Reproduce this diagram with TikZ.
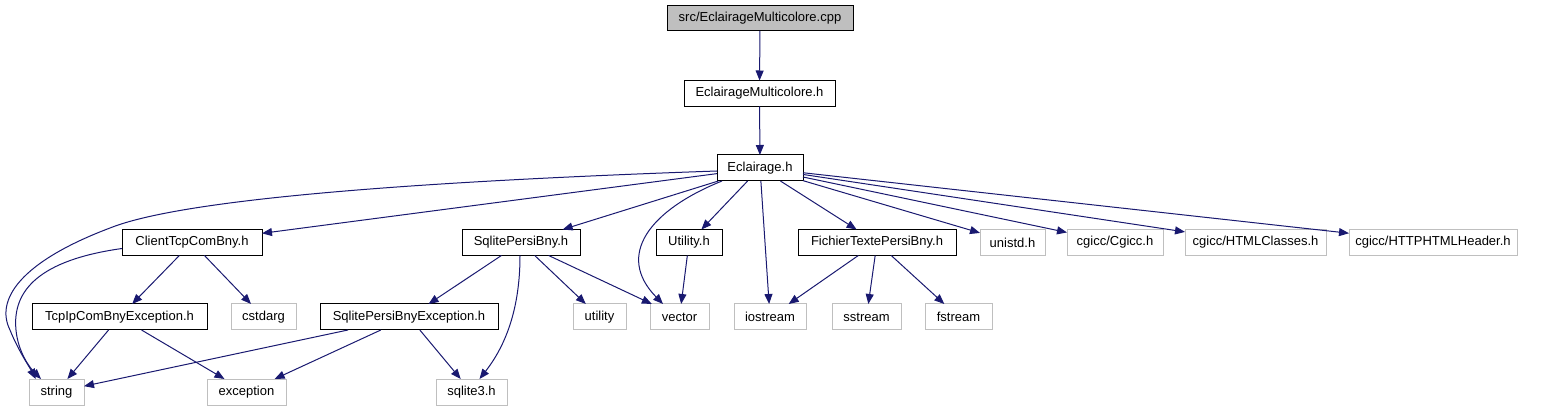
\documentclass[tikz,border=0pt]{standalone}
\usepackage{fontspec}
\setmainfont{Liberation Sans}
\usetikzlibrary{
    arrows.meta
}
\definecolor{edgeblue}{HTML}{191970}
\definecolor{extgray}{HTML}{BFBFBF}

\begin{document}
\begin{tikzpicture}[
    x=1pt,
    y=-1pt,
    >={Triangle[length=10pt,width=8pt]},
    font=\fontsize{13}{15}\selectfont,
    file/.style={
        rectangle,
        draw=black,
        line width=1pt,
        minimum height=26pt,
        inner sep=0pt,
        outer sep=0pt
    },
    source/.style={
        file,
        fill=extgray,
        minimum height=25pt
    },
    sysfile/.style={
        file,
        draw=extgray
    },
    dep/.style={
        ->,
        draw=edgeblue,
        line width=1pt
    }
]
\useasboundingbox (0,0) rectangle (1563,411);

%--------------------------------------------------
\node[source,minimum width=186pt] (root) at (760,18.5)
{src/EclairageMulticolore.cpp};

\node[file,minimum width=151pt] (multicolore_h) at (759.5,93.5)
{EclairageMulticolore.h};

\node[file,minimum width=86pt] (eclairage_h) at (760,168)
{Eclairage.h};

% third row
\node[file,minimum width=140pt] (client_h) at (192,242.5)
{ClientTcpComBny.h};
\node[file,minimum width=118pt] (persi_h) at (521,242.5)
{SqlitePersiBny.h};
\node[file,minimum width=66pt] (utility_h) at (689,242.5)
{Utility.h};
\node[file,minimum width=158pt] (fichier_h) at (877,242.5)
{FichierTextePersiBny.h};
\node[sysfile,minimum width=65pt] (unistd_h) at (1012.5,242.5)
{unistd.h};
\node[sysfile,minimum width=96pt] (cgicc_h) at (1115,242.5)
{cgicc/Cgicc.h};
\node[sysfile,minimum width=141pt] (htmlclasses_h) at (1255.5,242.5)
{cgicc/HTMLClasses.h};
\node[sysfile,minimum width=168pt] (httpheader_h) at (1433,242.5)
{cgicc/HTTPHTMLHeader.h};

% fourth row
\node[file,minimum width=175pt] (tcpip_exc) at (119.5,317)
{TcpIpComBnyException.h};
\node[sysfile,minimum width=65pt] (cstdarg) at (263.5,317)
{cstdarg};
\node[file,minimum width=178pt] (persi_exc) at (409,317)
{SqlitePersiBnyException.h};
\node[sysfile,minimum width=53pt] (utility) at (599.5,317)
{utility};
\node[sysfile,minimum width=59pt] (vector) at (679.5,317)
{vector};
\node[sysfile,minimum width=72pt] (iostream) at (770,317)
{iostream};
\node[sysfile,minimum width=69pt] (sstream) at (866.5,317)
{sstream};
\node[sysfile,minimum width=67pt] (fstream) at (958.5,317)
{fstream};

% bottom row
\node[sysfile,minimum width=55pt] (string) at (56.5,392)
{string};
\node[sysfile,minimum width=79pt] (exception) at (246.5,392)
{exception};
\node[sysfile,minimum width=71pt] (sqlite3) at (471.5,392)
{sqlite3.h};

%--------------------------------------------------
\draw[dep] (root) -- (multicolore_h);
\draw[dep] (multicolore_h) -- (eclairage_h);

\draw[dep] ([yshift=-3pt]eclairage_h.west) .. controls (400,182) and (180,200) .. (110,228)
    .. controls (20,262) and (-5,300) .. (10,330)
    .. controls (18,350) and (30,368) .. (string.148);
\draw[dep] (eclairage_h) -- (client_h);
\draw[dep] (eclairage_h) -- (persi_h);
\draw[dep] ([xshift=5pt]eclairage_h.south west) .. controls (650,210) and (615,255) .. ([xshift=13pt]vector.north west);
\draw[dep] (eclairage_h) -- (utility_h);
\draw[dep] (eclairage_h) -- (iostream);
\draw[dep] (eclairage_h) -- (fichier_h);
\draw[dep] (eclairage_h) -- (unistd_h);
\draw[dep] (eclairage_h) -- (cgicc_h);
\draw[dep] (eclairage_h) -- (htmlclasses_h);
\draw[dep] (eclairage_h) -- (httpheader_h);

\draw[dep] (client_h) -- (tcpip_exc);
\draw[dep] (client_h) -- (cstdarg);
\draw[dep] ([yshift=-6pt]client_h.west) .. controls (40,260) and (12,290) .. (16,330)
    .. controls (18,352) and (30,368) .. (string.140);

\draw[dep] (tcpip_exc) -- (string);
\draw[dep] (tcpip_exc) -- (exception);

\draw[dep] (persi_h) -- (persi_exc);
\draw[dep] ([xshift=-1pt]persi_h.south) .. controls (520,300) and (510,340) .. ([xshift=8pt]sqlite3.north);
\draw[dep] (persi_h) -- (utility);
\draw[dep] (persi_h) -- (vector);

\draw[dep] (persi_exc) -- (string);
\draw[dep] (persi_exc) -- (exception);
\draw[dep] (persi_exc) -- (sqlite3);

\draw[dep] (utility_h) -- (vector);

\draw[dep] (fichier_h) -- (iostream);
\draw[dep] (fichier_h) -- (sstream);
\draw[dep] (fichier_h) -- (fstream);

\end{tikzpicture}
\end{document}
